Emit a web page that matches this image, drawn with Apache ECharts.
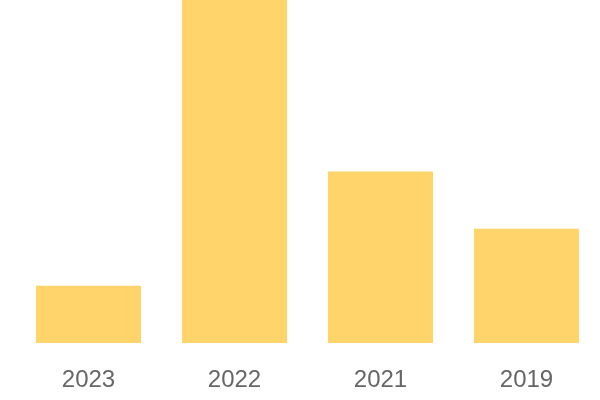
<!DOCTYPE html>
<html>
<head>
<meta charset="utf-8">
<script src="https://cdn.jsdelivr.net/npm/echarts@6/dist/echarts.min.js"></script>
<style>html,body{margin:0;padding:0;background:#fff}#c{width:600px;height:400px}</style>
</head>
<body>
<div id="c"></div>
<script>
const categories = ['2023', '2022', '2021', '2019'];
const values = [1, 6, 3, 2];
const chart = echarts.init(document.getElementById('c'), null, {renderer: 'canvas'});
chart.setOption({
  animation: false,
  grid: {left: 15.5, right: 0.5, top: 0, bottom: 57, containLabel: false},
  xAxis: {
    type: 'category',
    data: categories,
    axisLine: {show: false},
    axisTick: {show: false},
    axisLabel: {color: '#666', fontSize: 24, margin: 25, fontFamily: 'Liberation Sans, Arial, sans-serif'}
  },
  yAxis: {
    type: 'value', min: 0, max: 6,
    show: false,
    splitLine: {show: false}
  },
  series: [{
    type: 'bar',
    data: values,
    barCategoryGap: '28%',
    itemStyle: {color: '#fed46b'}
  }]
});
</script>
</body>
</html>
